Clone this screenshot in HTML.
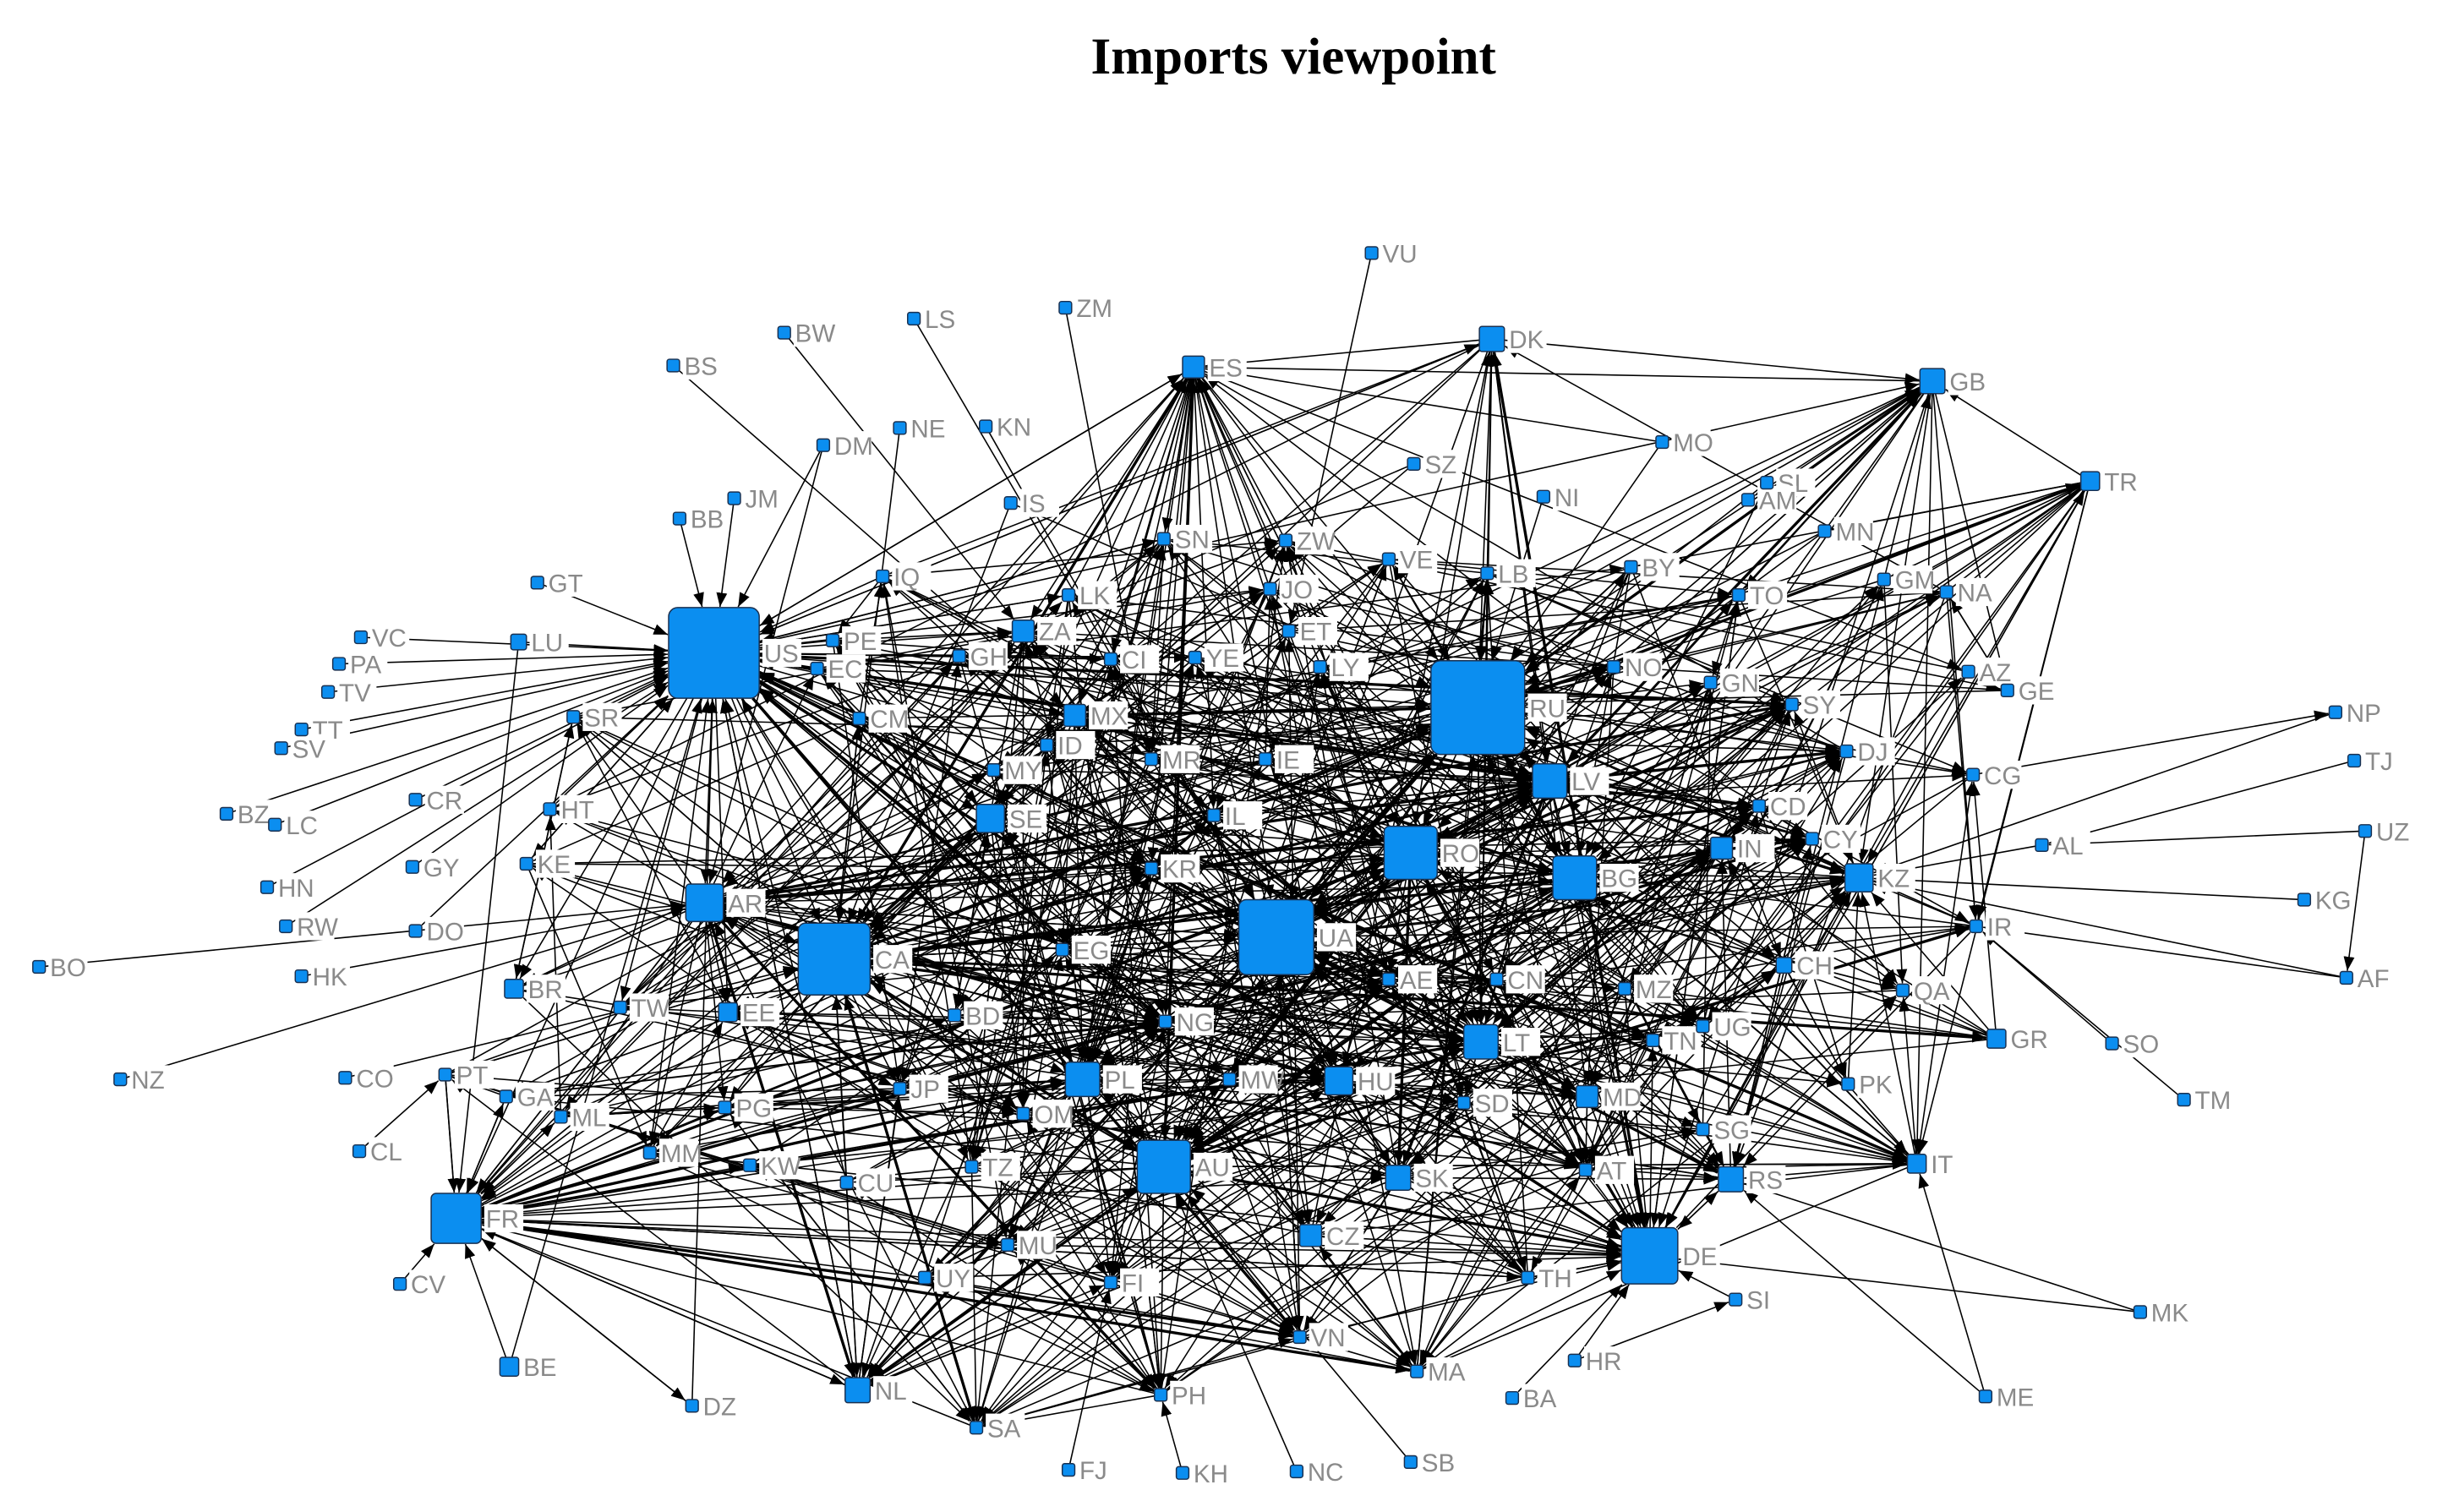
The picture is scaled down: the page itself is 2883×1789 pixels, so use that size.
<!DOCTYPE html>
<html><head><meta charset="utf-8">
<style>
html,body{margin:0;padding:0;background:#fff;}
body{width:2883px;height:1789px;overflow:hidden;}
svg{display:block;}
</style></head>
<body>
<svg id="g" width="2883" height="1789" viewBox="0 0 1560 968" preserveAspectRatio="none" xmlns="http://www.w3.org/2000/svg">
<defs><marker id="a" markerUnits="userSpaceOnUse" markerWidth="9" markerHeight="7" refX="9" refY="3.5" orient="auto"><path d="M0,0 L9,3.5 L0,7 z" fill="#000"/></marker></defs>
<text x="828" y="47" text-anchor="middle" font-family="Liberation Serif, serif" font-weight="bold" font-size="33">Imports viewpoint</text>
<g id="E" stroke="#000" stroke-width="0.85" fill="none"></g>
<g id="L" font-family="Liberation Sans, sans-serif" font-size="16" fill="#8a8a8a"></g>
<g id="N" fill="#0b8ef0" stroke="#1a3050" stroke-width="0.8"></g>
</svg>
<script>
var N=[["VU",878,162],["ZM",682,197],["LS",585,204],["BW",502,213],["BS",431,234],["ES",764,235,14],["DK",955,217,16],["GB",1237,244,16],["NE",576,274],["KN",631,273],["DM",527,285],["MO",1064,283],["SZ",905,297],["TR",1338,308,12],["SL",1131,309],["AM",1119,320],["NI",988,318],["IS",647,322],["JM",470,319],["BB",435,332],["MN",1168,340],["SN",745,345],["ZW",823,346],["VE",889,358],["LB",952,367],["BY",1044,363],["GT",344,373],["IQ",565,369],["LK",684,381],["TO",1113,381],["GM",1206,371],["NA",1246,379],["JO",813,377],["ET",825,404],["ZA",655,404,14],["US",457,418,58],["PE",533,410],["LU",332,411,10],["VC",231,408],["PA",217,425],["TV",210,443],["GH",614,420],["CI",711,422],["YE",765,421],["LY",845,427],["EC",523,428],["RU",946,453,60],["NO",1033,427],["GN",1095,437],["AZ",1260,430],["GE",1285,442],["SY",1147,451],["TT",193,467],["SV",180,479],["SR",367,459],["CM",550,460],["MX",688,458,14],["ID",670,477],["MR",737,486],["IE",810,486],["DJ",1182,481],["NP",1495,456],["TJ",1507,487],["MY",636,493],["CG",1263,496],["LV",992,500,22],["SE",634,524,18],["IL",777,522],["CD",1126,516],["HT",352,518],["CR",266,512],["BZ",145,521],["LC",176,528],["CY",1160,537],["IN",1102,543,14],["RO",903,546,34],["AL",1307,541],["UZ",1514,532],["KZ",1190,562,18],["KR",737,556],["BG",1008,562,28],["GY",264,555],["KE",337,553],["HN",171,568],["AR",451,578,24],["KG",1475,576],["RW",183,593],["DO",266,596],["UA",817,600,48],["IR",1265,593],["BO",25,619],["HK",193,625],["CA",534,614,46],["EG",680,608],["AF",1502,626],["AE",889,627],["CN",958,627],["MZ",1040,633],["BR",329,633,12],["CH",1142,618,10],["QA",1218,634],["TW",397,645],["EE",466,648,12],["BD",611,650],["NG",746,654],["UG",1090,657],["TN",1058,666],["LT",948,667,22],["GR",1278,665,12],["SO",1352,668],["NZ",77,691],["CO",221,690],["PT",285,688],["PL",693,691,22],["MW",787,691],["HU",857,692,18],["PK",1183,694],["JP",576,697],["GA",324,702],["TM",1398,704],["ML",359,715],["SD",937,706],["MD",1016,702,14],["PG",464,709],["OM",655,713],["SG",1090,723],["CL",230,737],["MM",416,738],["KW",480,746],["CU",542,757],["TZ",622,747],["AU",745,747,34],["SK",895,754,16],["AT",1015,749],["RS",1108,755,16],["IT",1227,745,12],["FR",292,780,32],["MU",645,797],["CZ",839,791,14],["DE",1056,804,36],["CV",256,822],["UY",592,818],["FI",711,821],["TH",978,818],["SI",1111,832],["MK",1370,840],["VN",832,856],["BE",326,875,12],["HR",1008,871],["MA",907,878],["PH",743,893],["NL",549,890,16],["DZ",443,900],["BA",968,895],["ME",1271,894],["SA",625,914],["SB",903,936],["FJ",684,941],["KH",757,943],["NC",830,942]];
var M={};N.forEach(function(n){if(!n[3])n[3]=8;M[n[0]]=n;});
var ex="VU-ET ZM-MR LS-UA BW-ZA BS-MX NE-CA KN-UA DM-US DM-AR JM-US BB-US MO-RU MO-ES SZ-ZA SZ-CA NI-RU TR-RU TR-BG TR-RO TR-KZ TR-UA TR-GB TR-LT TR-IT TR-IR TR-GM TR-MN TR-DE TR-CN TR-AE DK-ES DK-GB DK-RU DK-UA DK-US DK-LV DK-LT DK-CA DK-RO GB-ES GB-RU GB-RO GB-UA GB-BG GB-CA GB-LV GB-IT GB-IR GB-LT GB-KZ GB-DE GB-TO GB-AM ES-US ES-CA ES-UA ES-RU ES-AU ES-RO ES-SE ES-MX ES-ZA ES-AR ES-PL ES-HU ES-NG ES-EG ES-LT ES-BG ES-IL ES-KR ES-AE ES-CN ES-CI ES-SN ES-TZ NP-KZ TJ-AL UZ-AL UZ-AF KG-KZ AF-KZ AF-IR SO-IR TM-IR MK-RS ME-RS SB-AU NC-AU KH-PH FJ-FI BO-AR NZ-AR CO-CA CL-PT CV-FR BZ-US HN-US LC-US RW-US HK-AR DO-US GY-US CR-US HT-US KE-US VC-US PA-US TV-US TT-US SV-US GT-US SR-US LU-US PE-US EC-US CM-US GH-US IQ-US IS-CA IS-RU SI-DE HR-DE HR-SI BA-DE MA-FR MA-DE PH-FR SA-FR SA-CA DZ-FR NL-FR BE-FR BE-US DZ-US NL-US NL-CA VN-FR VN-UA TH-FR TH-US ME-IT MK-DE LU-FR PT-FR GA-FR ML-FR CG-NP AL-KZ IR-KZ IR-RU IR-UA IR-RO GR-RU GR-UA GR-KZ GR-BG IT-RU IT-UA IT-US IT-RO IT-AU IT-KZ IT-BG LB-RU LB-DK BY-RU SL-RU SL-BG MN-RU MN-UA GM-RU NA-RU NA-IR VE-RU VE-CA ZW-CA ZW-ES SN-US SN-ES JO-ES LK-ES LK-US US-CA US-AR US-BR US-TW US-EE US-RU US-UA US-AU US-ZA US-MX US-SE US-FR AR-CA AR-FR AR-BR AR-AU CA-UA CA-AU CA-RU CA-FR CA-NL CA-JP CA-PH RU-UA RU-RO RU-BG RU-LV RU-LT RU-KZ RU-DE RU-AU UA-DE UA-AU UA-RO UA-PL UA-HU UA-NL UA-MA AU-DE AU-FR AU-PH AU-VN AU-SA RO-DE RO-BG BG-DE LT-DE LV-DE PL-DE HU-DE CZ-DE SK-DE AT-DE RS-DE MD-DE FR-NL FR-DZ FR-MU FR-TH FR-MA FR-VN US-GB US-DK US-ES".split(" ");
var r=(function(s){return function(){s|=0;s=s+0x6D2B79F5|0;var t=Math.imul(s^s>>>15,1|s);t=t+Math.imul(t^t>>>7,61|t)^t;return((t^t>>>14)>>>0)/4294967296;}})(12345);
var excl={ME:1,BA:1,HR:1,SI:1,AM:1,SL:1,MO:1,NI:1,SZ:1,GT:1,LU:1,GR:1,IR:1,AL:1,SO:1,TM:1,MK:1,BE:1,DZ:1};
var C=N.filter(function(n){return !excl[n[0]]&&n[1]>280&&n[1]<1300&&n[2]>340&&n[2]<915;});
var hubs=["US","RU","CA","UA","AU","DE","FR","RO","BG","LV","AR","LT","PL","HU","SE","ES","GB","DK","IT","IR","GR","TR","KZ","NL","MA","TH","VN","PH","SA","IN","CY","CD","DJ","SY","RS","SK","AT","EG","NG","KR","MX","ZA"];
var E=[];ex.forEach(function(e){var p=e.split("-");E.push([p[0],p[1],0]);});
C.forEach(function(n){var k=n[3]>20?14:(n[3]>10?8:5);for(var i=0;i<k;i++){var m=C[Math.floor(r()*C.length)];var dx=m[1]-n[1],dy=m[2]-n[2];if(m===n||Math.sqrt(dx*dx+dy*dy)>520){continue;}E.push([n[0],m[0],0]);}
for(var j=0;j<3;j++){var h=hubs[Math.floor(r()*hubs.length)];if(h!==n[0])E.push(r()<0.5?[n[0],h,0]:[h,n[0],0]);}});
for(var i=0;i<60;i++){var a=hubs[Math.floor(r()*12)],b=hubs[Math.floor(r()*hubs.length)];if(a!==b)E.push([a,b,1]);}
var ns="http://www.w3.org/2000/svg",gE=document.getElementById("E"),gL=document.getElementById("L"),gN=document.getElementById("N");
E.forEach(function(e){var s=M[e[0]],t=M[e[1]];if(!s||!t)return;var dx=t[1]-s[1],dy=t[2]-s[2],d=Math.sqrt(dx*dx+dy*dy);if(d<5)return;var ux=dx/d,uy=dy/d;var h=t[3]/2/Math.max(Math.abs(ux),Math.abs(uy))+0.5;var hs=s[3]/2/Math.max(Math.abs(ux),Math.abs(uy));
var l=document.createElementNS(ns,"line");l.setAttribute("x1",s[1]+ux*hs);l.setAttribute("y1",s[2]+uy*hs);l.setAttribute("x2",t[1]-ux*h);l.setAttribute("y2",t[2]-uy*h);if(e[2])l.setAttribute("stroke-width","1.8");l.setAttribute("marker-end","url(#a)");gE.appendChild(l);});
N.forEach(function(n){var h=n[3]/2,x=n[1]+h+2,w=n[0].length*11+3;var b=document.createElementNS(ns,"rect");b.setAttribute("x",x);b.setAttribute("y",n[2]-9);b.setAttribute("width",w);b.setAttribute("height",18);b.setAttribute("fill","#fff");gL.appendChild(b);
var t=document.createElementNS(ns,"text");t.setAttribute("x",x+1);t.setAttribute("y",n[2]+6);t.textContent=n[0];gL.appendChild(t);
var q=document.createElementNS(ns,"rect");q.setAttribute("x",n[1]-h);q.setAttribute("y",n[2]-h);q.setAttribute("width",n[3]);q.setAttribute("height",n[3]);q.setAttribute("rx",Math.max(1.5,n[3]/10));gN.appendChild(q);});
</script>
</body></html>
